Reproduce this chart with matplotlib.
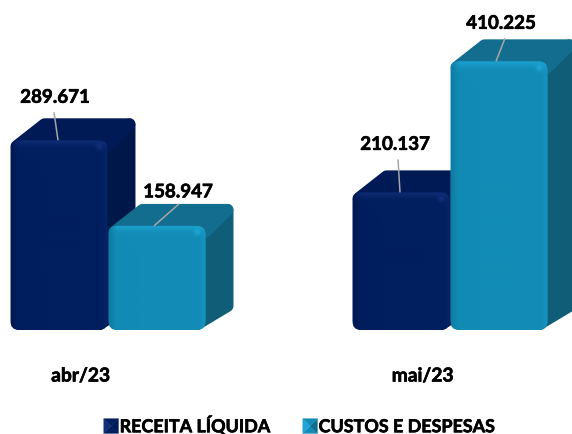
import numpy as np
import matplotlib
matplotlib.use("Agg")
import matplotlib.pyplot as plt
import matplotlib.patheffects as pe
from matplotlib.colors import to_rgb
from matplotlib.legend_handler import HandlerBase
from matplotlib.patches import FancyBboxPatch, Patch, Polygon

plt.rcParams["font.family"] = ["Lato", "DejaVu Sans"]

# data
periods = ["abr/23", "mai/23"]
series_names = ["RECEITA LÍQUIDA", "CUSTOS E DESPESAS"]
receita = [289.671, 210.137]
custos = [158.947, 410.225]

W, H = 572, 435
GROUP_PX = 342          # distance between the two groups
VALUE_PX = 0.655        # pixels per thousand
BASE_Y = 331            # baseline, pixels from top
BAR_PX = 97
DEPTH_X, DEPTH_Y = 28, 22
PX_X = 1 / GROUP_PX
PX_Y = 1 / VALUE_PX

# front, top, side, front highlight, front shade
NAVY = ["#011e5e", "#001a55", "#00174a", "#12307a", "#001850"]
TEAL = ["#128cb6", "#126d8f", "#105d78", "#1ea6d4", "#0e7ba1"]

# label offsets from the top centre of the front face, in pixels
LABEL_OFF = [[(-4, -43), (-6, -48)], [(21, -34), (2, -38)]]
LEAD_END = [[(-5, -28), (-3, -33)], [(22, -22), (6, -23)]]
LEAD_START = [[(-1, 0), (-1, 0)], [(-3, 0), (-3, 0)]]

BOLD = [pe.withStroke(linewidth=0.45, foreground="black")]


def draw_bar(ax, left, value, cols, zorder):
    r_x, r_y = 9 * PX_X, 9 * PX_Y
    w = BAR_PX * PX_X
    dx, dy = DEPTH_X * PX_X, DEPTH_Y * PX_Y
    right = left + w

    # side and top faces, the thick edge rounds their corners
    ix, iy = 6 * PX_X, 6 * PX_Y
    side = [(right - 8 * PX_X, value - iy), (right + dx - ix, value + dy - iy),
            (right + dx - ix, dy + 2 * PX_Y), (right - 8 * PX_X, 6 * PX_Y)]
    top = [(left + ix, value - iy), (left + dx + ix, value + dy - iy),
           (right + dx - ix, value + dy - iy), (right, value - iy)]
    ax.add_patch(Polygon(side, closed=True, facecolor=cols[2], edgecolor=cols[2],
                         linewidth=8.6, joinstyle="round", zorder=zorder))
    ax.add_patch(Polygon(top, closed=True, facecolor=cols[1], edgecolor=cols[1],
                         linewidth=8.6, joinstyle="round", zorder=zorder))

    clip = FancyBboxPatch((left, 0), w, value, boxstyle=f"round,pad=0,rounding_size={r_x}",
                          mutation_aspect=r_y / r_x, transform=ax.transData,
                          facecolor=cols[0], edgecolor="none", zorder=zorder)
    ax.add_patch(clip)

    # front face gradient
    front, hi, lo = [np.array(to_rgb(c)) for c in (cols[0], cols[3], cols[4])]
    h_px = int(value * VALUE_PX)
    yy, xx = np.mgrid[0:h_px, 0:BAR_PX]
    rim_top = np.exp(-(yy / 5.0) ** 2)[..., None] * 0.7
    rim_left = np.exp(-(xx / 5.0) ** 2)[..., None] * 0.8
    rim_right = np.exp(-((BAR_PX - 1 - xx) / 4.0) ** 2)[..., None] * 0.5
    img = front + (hi - front) * (rim_top + rim_right * 0.6)
    img = img + (lo - img) * rim_left
    corner = np.exp(-(((BAR_PX - 9 - xx) / 3.5) ** 2 + ((yy - 6) / 3.5) ** 2))[..., None]
    img = img + (hi - img) * corner
    im = ax.imshow(np.clip(img, 0, 1), extent=(left, right, 0, value), origin="upper",
                   aspect="auto", interpolation="bilinear", zorder=zorder)
    im.set_clip_path(clip)


fig = plt.figure(figsize=(W / 100, H / 100), dpi=100)
ax = fig.add_axes([0, 0, 1, 1])

x = np.arange(len(periods), dtype=float)
group_0_px = 107.5

all_series = [receita, custos]
all_cols = [NAVY, TEAL]
bar_w = BAR_PX * PX_X

z = 2
for g in range(len(periods)):
    for s in range(2):
        value = all_series[s][g]
        left = x[g] + (s - 1) * bar_w + s * PX_X
        draw_bar(ax, left, value, all_cols[s], z)
        z += 1

        # leader line and value label
        cx = left + bar_w / 2
        sx, sy = LEAD_START[s][g]
        ex, ey = LEAD_END[s][g]
        ax.plot([cx + sx * PX_X, cx + ex * PX_X], [value - sy * PX_Y, value - ey * PX_Y],
                color="#a6a6a6", lw=1.1, zorder=50, solid_capstyle="butt")
        ox, oy = LABEL_OFF[s][g]
        ax.text(cx + ox * PX_X, value - oy * PX_Y, f"{value:.3f}", ha="center", va="center",
                fontsize=13.5, fontweight="bold", color="black", zorder=51, path_effects=BOLD)

# category labels sit left of the group centre
for g, name in enumerate(periods):
    ax.text(x[g] - 27 * PX_X, -46 * PX_Y, name, ha="center", va="center",
            fontsize=13.8, fontweight="bold", color="black", path_effects=BOLD)

ax.set_xlim(-group_0_px * PX_X, (W - group_0_px) * PX_X)
ax.set_ylim(-(H - BASE_Y) * PX_Y, BASE_Y * PX_Y)


class PyramidHandler(HandlerBase):
    # legend key: square shaded like a bevel
    def __init__(self, cols):
        super().__init__()
        self.cols = cols

    def create_artists(self, legend, orig, xd, yd, width, height, fontsize, trans):
        s = 10.5
        x0 = (width - s) / 2 - xd
        y0 = (height - s) / 2 - yd
        c = (x0 + s / 2, y0 + s / 2)
        p = [(x0, y0), (x0 + s, y0), (x0 + s, y0 + s), (x0, y0 + s)]
        shades = [self.cols[0], self.cols[1], self.cols[0], self.cols[3]]
        return [Polygon([p[i], p[(i + 1) % 4], c], closed=True, facecolor=shades[i],
                        edgecolor=shades[i], linewidth=0.3, transform=trans) for i in range(4)]


h1 = Patch(label=series_names[0])
h2 = Patch(label=series_names[1])
leg = ax.legend(handles=[h1, h2], loc="center", bbox_to_anchor=(299 / W, 1 - 426 / H), ncol=2,
                frameon=False, prop={"size": 12.9, "weight": "bold"}, handlelength=0.85,
                handleheight=0.85, handletextpad=0.05, columnspacing=1.8, borderpad=0,
                handler_map={h1: PyramidHandler(NAVY), h2: PyramidHandler(TEAL)})
for t in leg.get_texts():
    t.set_path_effects(BOLD)

ax.axis("off")
fig.savefig("out.png", dpi=100, facecolor="white")
